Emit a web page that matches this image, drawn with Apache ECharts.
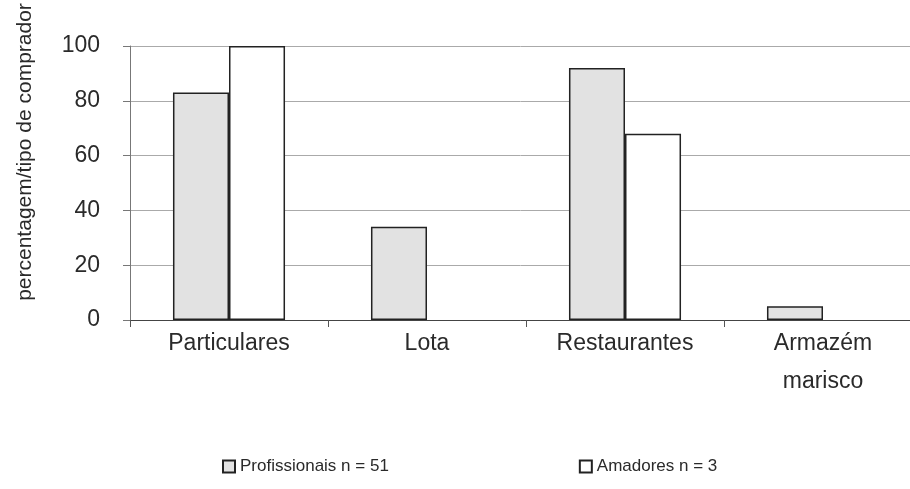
<!DOCTYPE html>
<html>
<head>
<meta charset="utf-8">
<script src="https://cdn.jsdelivr.net/npm/echarts@6/dist/echarts.min.js"></script>
<style>html,body{margin:0;padding:0;background:#fff}#c{width:910px;height:489px}</style>
</head>
<body>
<div id="c"></div>
<script>
const categories = ['Particulares', 'Lota', 'Restaurantes', 'Armazém\nmarisco'];
const profissionais = [83, 34, 92, 5];
const amadores = [100, 0, 68, 0];
const yTicks = [0, 20, 40, 60, 80, 100];
const seriesNames = ['Profissionais n = 51', 'Amadores n = 3'];
const yTitle = 'percentagem/tipo de comprador';

const FONT = "'Liberation Sans', Arial, sans-serif";
const TXT = '#2a2a2a';

function toBarData(arr) {
  return arr.map(v => v === 0 ? {value: v, itemStyle: {borderWidth: 0}} : v);
}

const chart = echarts.init(document.getElementById('c'), null, {renderer: 'canvas'});
chart.setOption({
  animation: false,
  backgroundColor: '#fff',
  textStyle: {fontFamily: FONT},
  grid: {left: 130, right: -12, top: 46, bottom: 169, outerBoundsMode: 'none', containLabel: false},
  legend: {
    left: 217, top: 453, itemWidth: 12, itemHeight: 12, itemGap: 190, icon: 'rect',
    textStyle: {fontSize: 17, color: TXT, fontFamily: FONT},
    data: seriesNames
  },
  graphic: [{
    type: 'text', x: 25, y: 152, rotation: Math.PI / 2,
    style: {text: yTitle, fill: TXT, font: "21px 'Liberation Sans', Arial, sans-serif", align: 'center', verticalAlign: 'middle'}
  }],
  xAxis: {
    type: 'category', data: categories,
    axisLine: {lineStyle: {color: '#444', width: 1}},
    axisTick: {show: true, length: 7, lineStyle: {color: '#555'}},
    axisLabel: {fontSize: 23, color: TXT, margin: 5, lineHeight: 38, interval: 0, fontFamily: FONT}
  },
  yAxis: {
    type: 'value', min: 0, max: yTicks[yTicks.length - 1], interval: yTicks[1] - yTicks[0],
    axisLine: {show: true, lineStyle: {color: '#777'}},
    axisTick: {show: true, length: 7, lineStyle: {color: '#777'}},
    axisLabel: {fontSize: 23, color: TXT, margin: 30, fontFamily: FONT},
    splitLine: {lineStyle: {color: '#aaa', width: 1}}
  },
  series: [
    {name: seriesNames[0], type: 'bar', data: toBarData(profissionais), barWidth: '28.3%', barGap: '0%',
     itemStyle: {color: '#e2e2e2', borderColor: '#222', borderWidth: 1.5}},
    {name: seriesNames[1], type: 'bar', data: toBarData(amadores), barWidth: '28.3%',
     itemStyle: {color: '#ffffff', borderColor: '#222', borderWidth: 1.5}}
  ]
});
</script>
</body>
</html>
